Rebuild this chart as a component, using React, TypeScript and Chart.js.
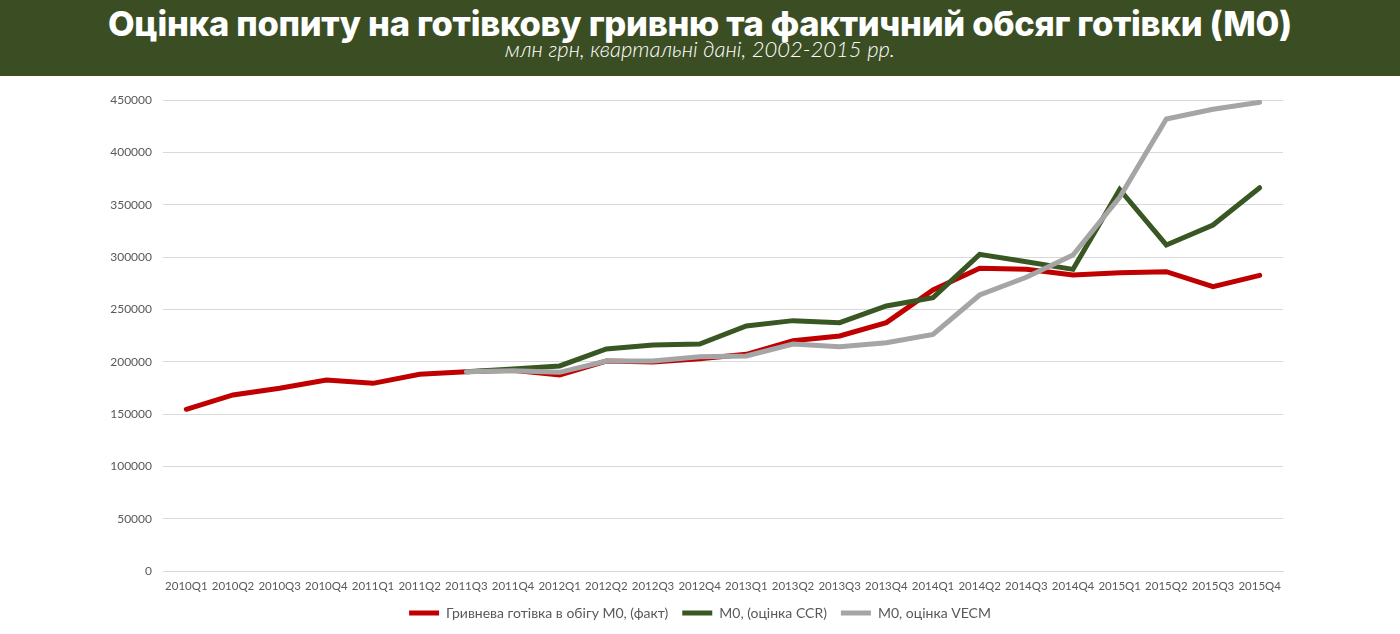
import React, { useEffect, useRef } from "react";
import { Chart, registerables } from "chart.js";

Chart.register(...registerables);

const TITLE = "Оцінка попиту на готівкову гривню та фактичний обсяг готівки (М0)";
const SUBTITLE = "млн грн, квартальні дані, 2002-2015 рр.";

const categories = [
  "2010Q1", "2010Q2", "2010Q3", "2010Q4",
  "2011Q1", "2011Q2", "2011Q3", "2011Q4",
  "2012Q1", "2012Q2", "2012Q3", "2012Q4",
  "2013Q1", "2013Q2", "2013Q3", "2013Q4",
  "2014Q1", "2014Q2", "2014Q3", "2014Q4",
  "2015Q1", "2015Q2", "2015Q3", "2015Q4",
];

const seriesNames = [
  "Гривнева готівка в обігу М0, (факт)",
  "М0, (оцінка CCR)",
  "М0, оцінка VECM",
];

const m0Fact = [
  154500, 168200, 174600, 182500,
  179300, 187900, 190400, 191800,
  187300, 200600, 199700, 202800,
  207000, 220000, 224500, 237300,
  268500, 289200, 288200, 282800,
  285000, 286000, 271600, 282500,
];

const m0Ccr = [
  null, null, null, null,
  null, null, 190400, 193000,
  195900, 212100, 215900, 216900,
  234100, 239200, 237300, 253200,
  261200, 302500, 295500, 288200,
  364500, 311500, 330600, 366200,
];

const m0Vecm = [
  null, null, null, null,
  null, null, 190400, 191400,
  189800, 200600, 200600, 204800,
  205400, 216900, 214300, 218100,
  226100, 263700, 280600, 301900,
  357000, 431800, 441100, 447800,
];

const yMin = 0;
const yMax = 450000;
const yStep = 50000;

const colors = ["#c00000", "#385723", "#a5a5a5"];

export default function App() {
  const canvasRef = useRef<HTMLCanvasElement | null>(null);

  useEffect(() => {
    if (!canvasRef.current) return;
    const series = [m0Fact, m0Ccr, m0Vecm];
    const chart = new Chart(canvasRef.current, {
      type: "line",
      data: {
        labels: categories,
        datasets: series.map((d, i) => ({
          label: seriesNames[i],
          data: d,
          borderColor: colors[i],
          backgroundColor: colors[i],
          borderWidth: 5,
          pointRadius: 0,
          pointHoverRadius: 0,
          tension: 0,
          fill: false,
          spanGaps: false,
          borderCapStyle: "round" as const,
          borderJoinStyle: "miter" as const,
          order: 3 - i,
          yAxisID: "y",
        })),
      },
      options: {
        animation: false,
        responsive: true,
        maintainAspectRatio: false,
        layout: { padding: { left: 0, right: 0, top: 24, bottom: 4 } },
        plugins: {
          legend: {
            position: "bottom",
            labels: {
              usePointStyle: true,
              pointStyle: "line",
              pointStyleWidth: 30,
              boxHeight: 5,
              padding: 14,
              color: "#595959",
              font: { family: "Lato", size: 14 },
              sort: (a: any, b: any) => a.datasetIndex - b.datasetIndex,
            },
          },
          tooltip: { enabled: false },
        },
        scales: {
          x: {
            offset: true,
            grid: { display: false, drawTicks: false },
            border: { display: true, color: "#d9d9d9", width: 1 },
            ticks: {
              color: "#595959",
              font: { family: "Lato", size: 11.5 },
              maxRotation: 0,
              autoSkip: false,
              padding: 8,
            },
            afterFit: (s: any) => { s.height = 21; },
          },
          y: {
            min: yMin,
            max: yMax,
            grid: { color: "#d9d9d9", drawTicks: false },
            border: { display: false },
            ticks: {
              stepSize: yStep,
              color: "#595959",
              font: { family: "Lato", size: 12 },
              padding: 11,
              callback: (v: any) => String(v),
            },
            afterFit: (s: any) => { s.width = 163; },
          },
          yRightSpace: {
            position: "right",
            min: yMin,
            max: yMax,
            grid: { display: false, drawTicks: false },
            border: { display: false },
            ticks: { display: false },
            afterFit: (s: any) => { s.width = 117; },
          },
        },
      },
    });
    return () => chart.destroy();
  }, []);

  return (
    <div style={{ position: "fixed", left: 0, top: 0, width: 1400, height: 634, background: "#fff", overflow: "hidden" }}>
      <div style={{ height: 76, background: "#3b4e23", color: "#fff", textAlign: "center", fontFamily: "Inter, 'Open Sans', sans-serif" }}>
        <div style={{ fontWeight: 800, fontSize: 34.5, lineHeight: "38px", paddingTop: 5, letterSpacing: "-0.3px" }}>{TITLE}</div>
        <div style={{ fontStyle: "italic", fontSize: 22, lineHeight: "22px", marginTop: -5, fontFamily: "Lato, sans-serif", fontWeight: 300 }}>{SUBTITLE}</div>
      </div>
      <div style={{ position: "relative", width: 1400, height: 558 }}>
        <canvas ref={canvasRef} />
      </div>
    </div>
  );
}
